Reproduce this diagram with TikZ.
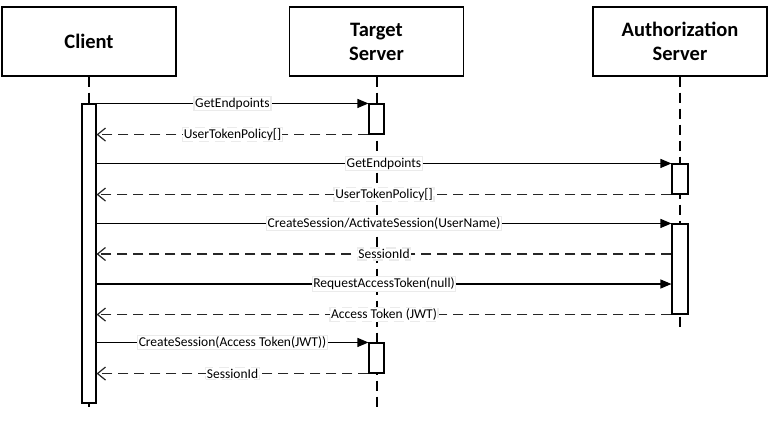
\documentclass[tikz,border=0pt]{standalone}
\usepackage{fontspec}
\setmainfont{Carlito}
\usetikzlibrary{shapes, arrows.meta}

\begin{document}
\begin{tikzpicture}[x=1pt, y=-1pt]
    \tikzstyle{actor} = [rectangle, draw, line width=1.3pt, fill=white, minimum width=174pt, minimum height=69pt, text centered, align=center, font=\fontsize{20.5}{24}\selectfont\bfseries]
    \tikzstyle{activation} = [rectangle, draw, line width=1.1pt, fill=white, minimum width=15pt, inner sep=0pt]
    \tikzstyle{lifeline} = [line width=2pt, dash pattern=on 10pt off 6pt]
    \tikzstyle{call} = [line width=1.1pt, -{Triangle[length=11pt, width=9pt]}]
    \tikzstyle{reply} = [line width=1.2pt, black!85, dash pattern=on 10pt off 6pt, -{Straight Barb[length=8pt, width=13pt]}]
    \tikzstyle{msg} = [fill=white, draw=black!8, inner sep=1.2pt, text=black, font=\fontsize{13.5}{15}\selectfont]

    \useasboundingbox (0,0) rectangle (770,423);

    \node (client) [actor] at (89,41.5) {Client};
    \node (target) [actor] at (376.5,41.5) {Target\\Server};
    \node (auth) [actor] at (680,41.5) {Authorization\\Server};

    % Lifelines
    \coordinate (clientend) at (89,412);
    \coordinate (targetend) at (376.5,412);
    \coordinate (authend) at (680,330);
    \draw [lifeline] (client) -- (clientend);
    \draw [lifeline] (target) -- (targetend);
    \draw [lifeline] (auth) -- (authend);

    % Activations
    \node (clientact) [activation, minimum width=14pt, minimum height=299pt] at (89,253.5) {};
    \node (targetact1) [activation, minimum height=30pt] at (376.5,119) {};
    \node (targetact2) [activation, minimum height=30pt] at (376.5,358) {};
    \node (authact1) [activation, minimum width=16pt, minimum height=30pt] at (680,179) {};
    \node (authact2) [activation, minimum width=16pt, minimum height=90pt] at (680,269) {};
    \coordinate (sessionstep) at (0,254);
    \coordinate (tokenstep) at (0,284);

    % Arrows
    \draw [call] (clientact.east |- targetact1.north) -- node[msg] {GetEndpoints} (targetact1.north west);
    \draw [reply] (targetact1.south west) -- node[msg] {UserTokenPolicy[]} (clientact.east |- targetact1.south);
    \draw [call] (clientact.east |- authact1.north) -- node[msg] {GetEndpoints} (authact1.north west);
    \draw [reply] (authact1.south west) -- node[msg] {UserTokenPolicy[]} (clientact.east |- authact1.south);
    \draw [call] (clientact.east |- authact2.north) -- node[msg] {CreateSession/ActivateSession(UserName)} (authact2.north west);
    \draw [reply] (authact2.west |- sessionstep) -- node[msg] {SessionId} (clientact.east |- sessionstep);
    \draw [call] (clientact.east |- tokenstep) -- node[msg] {RequestAccessToken(null)} (authact2.west |- tokenstep);
    \draw [reply] (authact2.south west) -- node[msg] {Access Token (JWT)} (clientact.east |- authact2.south);
    \draw [call] (clientact.east |- targetact2.north) -- node[msg] {CreateSession(Access Token(JWT))} (targetact2.north west);
    \draw [reply] (targetact2.south west) -- node[msg] {SessionId} (clientact.east |- targetact2.south);
\end{tikzpicture}
\end{document}
